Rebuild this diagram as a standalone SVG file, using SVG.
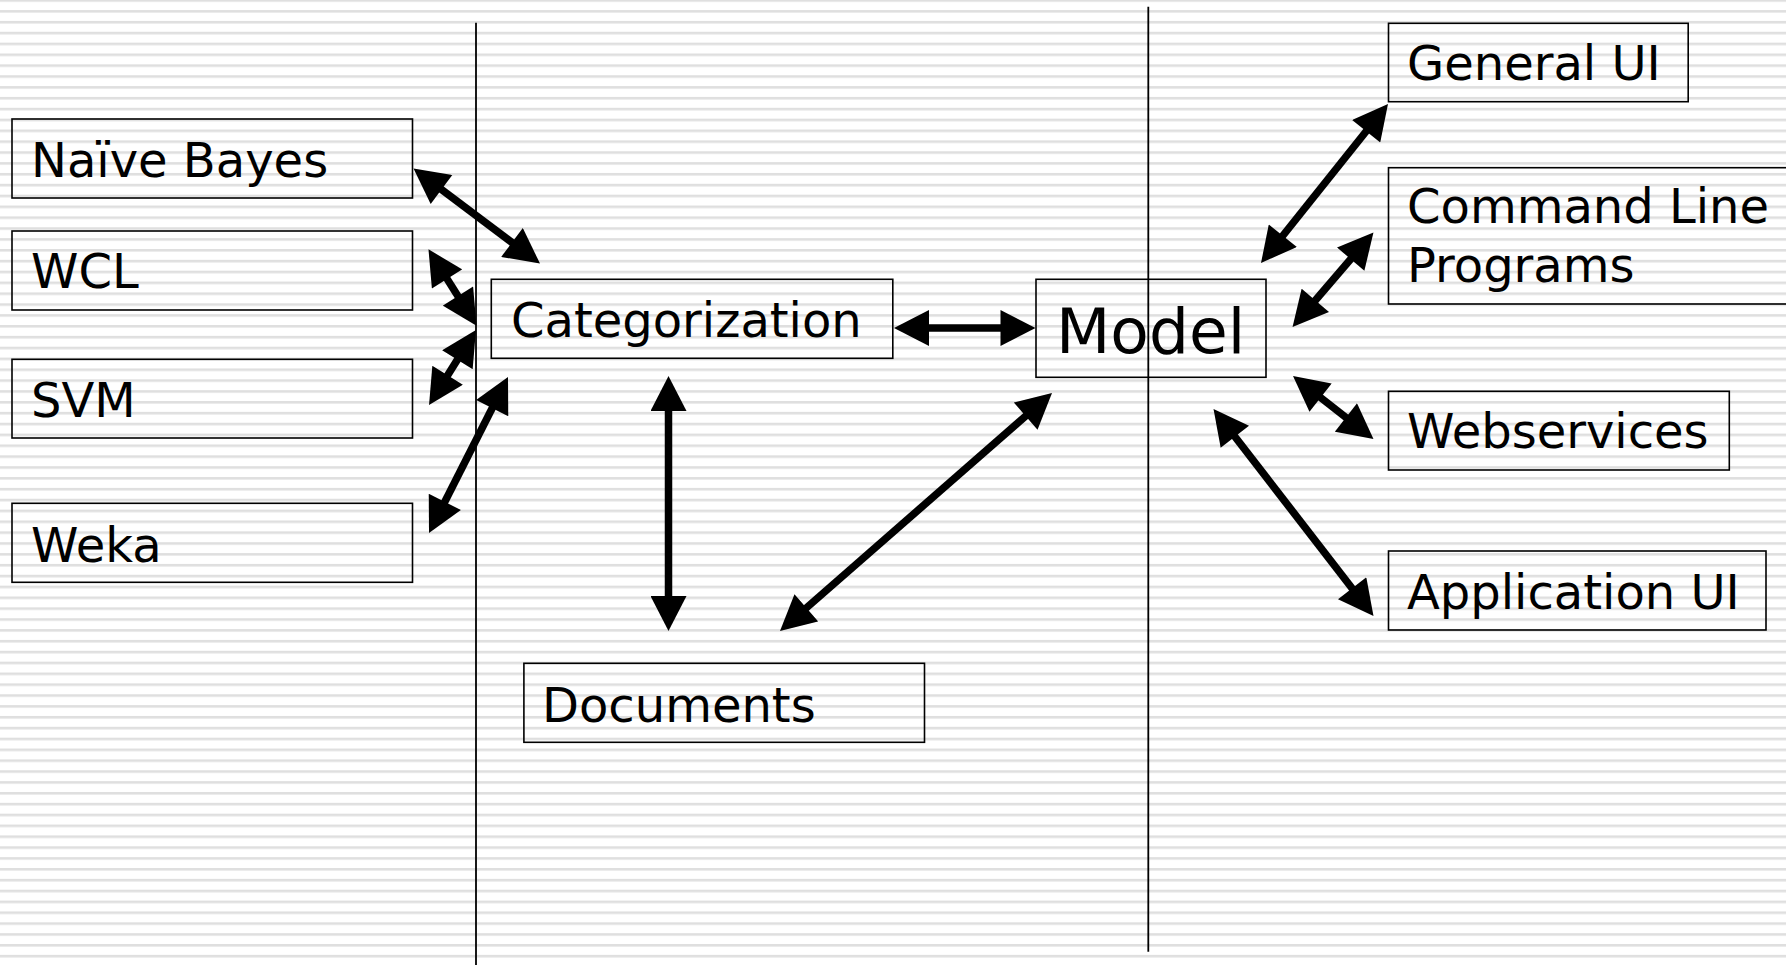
<svg xmlns="http://www.w3.org/2000/svg" width="1786" height="965" viewBox="0 0 1786 965">
  <style>
    .box { fill: none; stroke: #000; stroke-width: 1.6; }
    .lbl { font-family: "DejaVu Sans", Verdana, sans-serif; font-size: 48px; fill: #000; }
    .big { font-size: 63px; }
    .div { stroke: #000; stroke-width: 1.8; }
    .arr { stroke: #000; stroke-width: 7.5; fill: none; marker-start: url(#ah); marker-end: url(#ah); }
  </style>
  <defs>
    <pattern id="stripes" patternUnits="userSpaceOnUse" x="0" y="-0.8" width="20" height="10.86">
      <rect x="0" y="0" width="20" height="2.6" fill="#dfdfdf"/>
    </pattern>
    <marker id="ah" markerUnits="userSpaceOnUse" markerWidth="36" markerHeight="36" refX="10" refY="18" orient="auto-start-reverse" viewBox="0 0 35 36">
      <path d="M0,0 L35,18 L0,36 Z" fill="#000"/>
    </marker>
  </defs>

  <rect x="0" y="0" width="1786" height="965" fill="#fff"/>
  <rect x="0" y="0" width="1786" height="965" fill="url(#stripes)"/>

  <g id="dividers">
    <line class="div" x1="476" y1="22.7" x2="476" y2="965"/>
    <line class="div" x1="1148.3" y1="6.7" x2="1148.3" y2="951.7"/>
  </g>

  <g id="naive-bayes">
    <rect class="box" x="12" y="119" width="400.5" height="79"/>
    <text class="lbl" x="31" y="176.7">Naïve Bayes</text>
  </g>
  <g id="wcl">
    <rect class="box" x="12" y="231" width="400.5" height="79"/>
    <text class="lbl" x="31" y="288.3">WCL</text>
  </g>
  <g id="svm">
    <rect class="box" x="12" y="359.3" width="400.5" height="78.7"/>
    <text class="lbl" x="31" y="417.3">SVM</text>
  </g>
  <g id="weka">
    <rect class="box" x="12" y="503.3" width="400.5" height="79"/>
    <text class="lbl" x="31" y="561.7">Weka</text>
  </g>
  <g id="categorization">
    <rect class="box" x="491.3" y="279.3" width="401.5" height="79"/>
    <text class="lbl" x="511" y="337.3">Categorization</text>
  </g>
  <g id="documents">
    <rect class="box" x="523.9" y="663.3" width="400.6" height="79"/>
    <text class="lbl" x="542" y="721.7">Documents</text>
  </g>
  <g id="model">
    <rect class="box" x="1036" y="279.3" width="230" height="98"/>
    <text class="lbl big" x="1056" y="353.3">Model</text>
  </g>
  <g id="general-ui">
    <rect class="box" x="1388.5" y="23.3" width="299.7" height="78.4"/>
    <text class="lbl" x="1407" y="80">General UI</text>
  </g>
  <g id="command-line">
    <rect class="box" x="1388.5" y="167.7" width="420" height="136.3"/>
    <text class="lbl" x="1407" y="222.7">Command Line</text>
    <text class="lbl" x="1407" y="281.7">Programs</text>
  </g>
  <g id="webservices">
    <rect class="box" x="1388.5" y="391.3" width="340.8" height="78.7"/>
    <text class="lbl" x="1407" y="448.3">Webservices</text>
  </g>
  <g id="application-ui">
    <rect class="box" x="1388.5" y="551" width="377.5" height="79"/>
    <text class="lbl" x="1407" y="609.3">Application UI</text>
  </g>

  <g id="connectors">
    <line class="arr" x1="433.5" y1="183.5" x2="520" y2="248.5"/>
    <line class="arr" x1="441.8" y1="270.5" x2="463.2" y2="304.5"/>
    <line class="arr" x1="462.7" y1="351.2" x2="442.3" y2="383.8"/>
    <line class="arr" x1="496.7" y1="399.3" x2="440.3" y2="510.7"/>
    <line class="arr" x1="919" y1="328" x2="1010.5" y2="328"/>
    <line class="arr" x1="668.5" y1="401" x2="668.5" y2="606"/>
    <line class="arr" x1="798.8" y1="614.5" x2="1033.2" y2="409.5"/>
    <line class="arr" x1="1276.6" y1="243.5" x2="1372.4" y2="123.5"/>
    <line class="arr" x1="1308.8" y1="308" x2="1357.2" y2="251.5"/>
    <line class="arr" x1="1312.7" y1="391.4" x2="1353.8" y2="423.6"/>
    <line class="arr" x1="1228.8" y1="428.8" x2="1358.2" y2="596.2"/>
  </g>
</svg>
